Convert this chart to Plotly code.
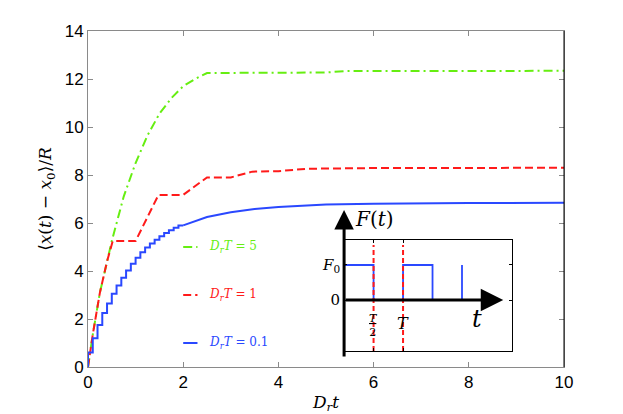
import plotly.graph_objects as go

# main curves
green_t = [0, 0.1, 0.25, 0.4, 0.5, 0.75, 1.0, 1.25, 1.5, 1.75, 2.0, 2.25, 2.5, 5.0, 5.4, 10]
green_y = [0, 1.35, 3.1, 4.4, 5.25, 7.1, 8.5, 9.65, 10.55, 11.2, 11.7, 12.0, 12.25, 12.27, 12.33, 12.34]

red_t = [0, 0.1, 0.25, 0.4, 0.52, 1.0, 1.48, 2.0, 2.5, 3.0, 3.45, 4.0, 4.6, 5.0, 6.0, 10]
red_y = [0, 1.35, 3.1, 4.4, 5.25, 5.25, 7.17, 7.17, 7.9, 7.9, 8.14, 8.16, 8.26, 8.27, 8.29, 8.3]

# blue: staircase part (one value per period 0.1) and smooth tail
blue_step_t = [0, 0.1, 0.2, 0.3, 0.4, 0.5, 0.6, 0.7, 0.8, 0.9, 1.0, 1.1, 1.2, 1.3, 1.4, 1.5, 1.6, 1.7, 1.8, 1.9, 2.0]
blue_step_y = [0, 0.6, 1.2, 1.75, 2.25, 2.65, 3.05, 3.4, 3.72, 4.02, 4.3, 4.55, 4.78, 4.98, 5.15, 5.3, 5.45, 5.58, 5.7, 5.8, 5.9]
blue_tail_t = [2.0, 2.5, 3.0, 3.5, 4.0, 4.5, 5.0, 6.0, 7.0, 8.0, 10]
blue_tail_y = [5.9, 6.25, 6.45, 6.58, 6.67, 6.73, 6.77, 6.8, 6.82, 6.83, 6.84]

labels = ['<i>D<sub>r</sub>T</i> = 5', '<i>D<sub>r</sub>T</i> = 1', '<i>D<sub>r</sub>T</i> = 0.1']

# inset: square pulse F(t)
pulse_t = [0, 0.5, 1.0, 1.5, 2.0]
pulse_f = [1, 0, 1, 0, 1]

GREEN = '#66ee11'
RED = '#ff1a1a'
BLUE = '#2a48ff'
GREY = '#8a8a8a'
SERIF = 'DejaVu Serif'

fig = go.Figure()
fig.add_trace(go.Scatter(x=green_t, y=green_y, mode='lines', line=dict(color=GREEN, width=2, dash='9px,4px,2px,4px')))
fig.add_trace(go.Scatter(x=red_t, y=red_y, mode='lines', line=dict(color=RED, width=2, dash='8px,4px')))
fig.add_trace(go.Scatter(x=blue_step_t, y=blue_step_y, mode='lines', line=dict(color=BLUE, width=2, shape='vh')))
fig.add_trace(go.Scatter(x=blue_tail_t, y=blue_tail_y, mode='lines', line=dict(color=BLUE, width=2)))

# inset traces
fig.add_trace(go.Scatter(x=pulse_t, y=pulse_f, mode='lines', line=dict(color=BLUE, width=1.8, shape='hv'),
                         xaxis='x2', yaxis='y2'))
for tv in [0.5, 1.0]:
    fig.add_trace(go.Scatter(x=[tv, tv], y=[-1.46, 1.57], mode='lines', line=dict(color=RED, width=2, dash='5px,3px'),
                             xaxis='x2', yaxis='y2', cliponaxis=False))

# hand made legend (MATLAB style, no box)
leg_y = [5.0, 3.0, 1.0]
leg_styles = [dict(color=GREEN, width=2, dash='9px,4px,2px,4px'), dict(color=RED, width=2, dash='8px,4px'), dict(color=BLUE, width=2)]
leg_cols = [GREEN, RED, BLUE]
for yy, st, lab, col in zip(leg_y, leg_styles, labels, leg_cols):
    fig.add_shape(type='line', x0=2.0, x1=2.3, y0=yy, y1=yy, xref='x', yref='y', line=st)
    fig.add_annotation(x=2.5, y=yy, xref='x', yref='y', text=lab, showarrow=False, xanchor='left',
                       font=dict(family=SERIF, size=12, color=col))

# right edge of the main box is drawn black
fig.add_shape(type='line', x0=1, x1=1, y0=0, y1=1, xref='paper', yref='paper', line=dict(color='black', width=1))

# inset arrows (vertical one reaches above the inset box, so it is placed in paper y)
fig.add_annotation(x=0, y=0.467, ax=0, ay=148, xref='x2', yref='paper', axref='pixel', ayref='pixel', text='',
                   showarrow=True, arrowhead=2, arrowsize=1.3, arrowwidth=3, arrowcolor='black', standoff=0)
fig.add_annotation(x=2.7, y=0, ax=0, ay=0, xref='x2', yref='y2', axref='x2', ayref='y2', text='',
                   showarrow=True, arrowhead=2, arrowsize=1.5, arrowwidth=3, arrowcolor='black', standoff=0)
fig.add_annotation(x=0.51, y=0.44, xref='x2', yref='paper', text='<i>F</i>(<i>t</i>)', showarrow=False,
                   font=dict(family=SERIF, size=20, color='black'))
fig.add_annotation(x=2.25, y=-0.55, xref='x2', yref='y2', text='<i>t</i>', showarrow=False,
                   font=dict(family=SERIF, size=24, color='black'))
fig.add_annotation(x=0.5, y=-0.72, xref='x2', yref='y2', text='<u><i>T</i></u><br>2', showarrow=False,
                   font=dict(family=SERIF, size=11, color='black'))
fig.add_annotation(x=1.0, y=-0.66, xref='x2', yref='y2', text='<i>T</i>', showarrow=False,
                   font=dict(family=SERIF, size=16, color='black'))

# margins allow for the 8px page margin of the html body
fig.update_layout(
    width=623, height=414, showlegend=False,
    margin=dict(l=80, r=67, t=23, b=55),
    plot_bgcolor='white', paper_bgcolor='white',
    font=dict(family='Liberation Sans', size=17, color='black'),
    xaxis=dict(range=[0, 10], tickvals=[0, 2, 4, 6, 8, 10], ticks='inside', ticklen=5, tickcolor=GREY,
               showline=True, linecolor=GREY, mirror='ticks', showgrid=False, zeroline=False, automargin=False,
               title=dict(text='<i>D<sub>r</sub>t</i>', font=dict(family=SERIF, size=17), standoff=4)),
    yaxis=dict(range=[0, 14], tickvals=[0, 2, 4, 6, 8, 10, 12, 14], ticks='inside', ticklen=5, tickcolor=GREY,
               showline=True, linecolor=GREY, mirror='ticks', showgrid=False, zeroline=False, automargin=False,
               title=dict(text='⟨<i>x</i>(<i>t</i>) − <i>x</i><sub>0</sub>⟩/<i>R</i>', font=dict(family=SERIF, size=17), standoff=8)),
    xaxis2=dict(domain=[0.538, 0.891], range=[0, 2.85], anchor='y2', tickvals=[0.5, 1.0], showticklabels=False,
                ticks='inside', ticklen=3, tickcolor='black', showline=True, linecolor='black', mirror='ticks',
                showgrid=False, zeroline=False),
    yaxis2=dict(domain=[0.0476, 0.378], range=[-1.457, 1.714], anchor='x2', tickvals=[0, 1],
                ticktext=['0', '<i>F</i><sub>0</sub>'], tickfont=dict(family=SERIF, size=15),
                ticks='inside', ticklen=3, tickcolor='black', showline=True, linecolor='black', mirror='ticks',
                showgrid=False, zeroline=False),
)

fig.write_html('out.html')
